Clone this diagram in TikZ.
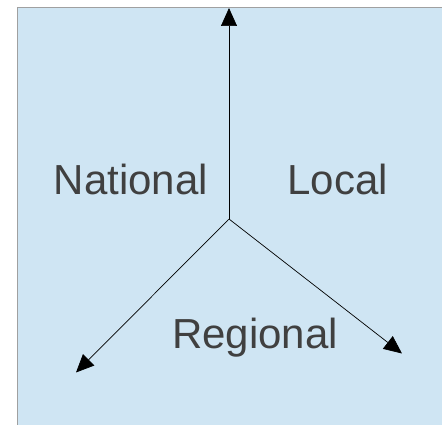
\documentclass[tikz,border=0pt]{standalone}
\usepackage{fontspec}
\setmainfont{Liberation Sans}
\usetikzlibrary{arrows.meta}
\definecolor{bgblue}{HTML}{CFE5F3}
\definecolor{txtgray}{HTML}{404040}
\definecolor{framegray}{HTML}{A0A0A0}
\begin{document}
\begin{tikzpicture}[x=1pt,y=-1pt,
  lbl/.style={font=\fontsize{42}{48}\selectfont, text=txtgray, inner sep=0pt, anchor=base},
  axis/.style={draw=black, line width=0.7pt, -{Triangle[length=18pt,width=16pt]}}]
\useasboundingbox (0,0) rectangle (442,425);
\fill[bgblue] (17.5,7.5) rectangle (444,427);
\draw[framegray, line width=1pt] (17.5,427) -- (17.5,7.5) -- (444,7.5);
\coordinate (c) at (229,219);
\coordinate (top) at (229,8);
\coordinate (left) at (76,372.5);
\coordinate (right) at (402,353.5);
\draw[axis] (c) -- (top);
\draw[axis] (c) -- (left);
\draw[axis] (c) -- (right);
\node[lbl] (national) at (131,195) {National};
\node[lbl] (local) at (337.5,195) {Local};
\node[lbl] (regional) at (255,348) {Regional};
\end{tikzpicture}
\end{document}
